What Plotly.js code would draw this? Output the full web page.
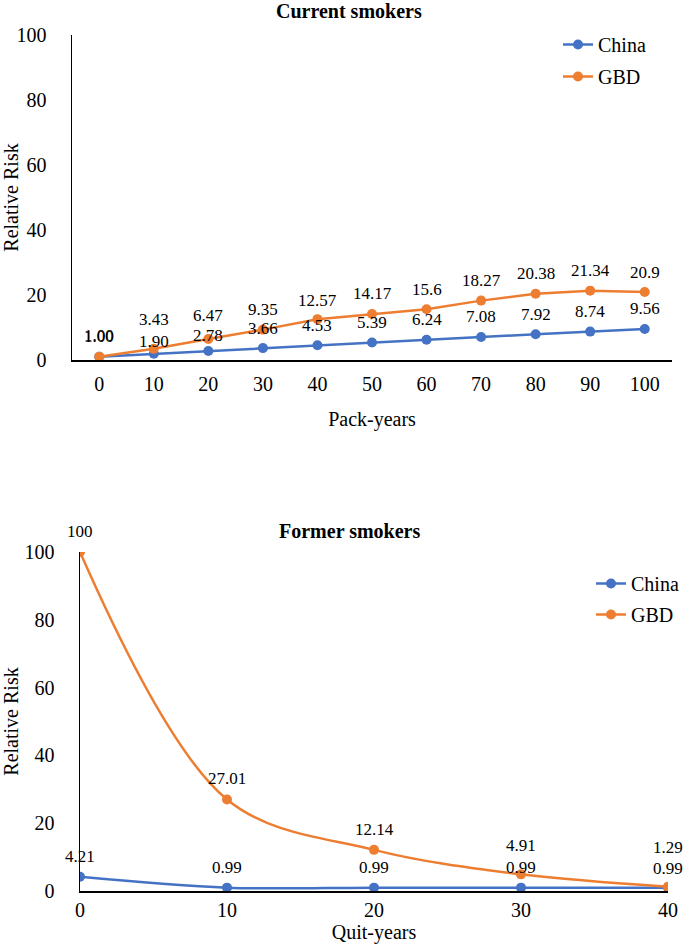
<!DOCTYPE html>
<html>
<head>
<meta charset="utf-8">
<script src="https://cdn.plot.ly/plotly-3.0.1.min.js"></script>
<style>html,body{margin:0;padding:0;background:#fff;}#chart{width:685px;height:947px;}</style>
</head>
<body>
<div id="chart"></div>
<script>
// ---- data ----
const packYears = [0, 10, 20, 30, 40, 50, 60, 70, 80, 90, 100];
const chinaCurrent = [1.00, 1.90, 2.78, 3.66, 4.53, 5.39, 6.24, 7.08, 7.92, 8.74, 9.56];
const gbdCurrent = [1.00, 3.43, 6.47, 9.35, 12.57, 14.17, 15.6, 18.27, 20.38, 21.34, 20.9];
const chinaCurrentText = ['1.00', '1.90', '2.78', '3.66', '4.53', '5.39', '6.24', '7.08', '7.92', '8.74', '9.56'];
const gbdCurrentText = ['1.00', '3.43', '6.47', '9.35', '12.57', '14.17', '15.6', '18.27', '20.38', '21.34', '20.9'];

const quitYears = [0, 10, 20, 30, 40];
const chinaFormer = [4.21, 0.99, 0.99, 0.99, 0.99];
const gbdFormer = [100, 27.01, 12.14, 4.91, 1.29];
const chinaFormerText = ['4.21', '0.99', '0.99', '0.99', '0.99'];
const gbdFormerText = ['100', '27.01', '12.14', '4.91', '1.29'];

const seriesNames = ['China', 'GBD'];
const titles = ['Current smokers', 'Former smokers'];
const xTitles = ['Pack-years', 'Quit-years'];
const yTitle = 'Relative Risk';

// ---- styles ----
const BLUE = '#4472C4', ORANGE = '#ED7D31';
const FONT = 'Liberation Serif, Times New Roman, serif';
// label offsets above the point (px), to mimic the reference placement
const shiftChinaCur = [20, 12, 15, 20, 20, 20, 20, 20, 20, 20, 20];
const shiftGbdCur = [21, 29, 23, 20, 19, 20, 20, 20, 20, 20, 20];
const shiftChinaFor = [20, 20, 20, 20, 19];
const shiftGbdFor = [21, 21, 20, 29, 39];

function tr(x, y, name, color, xa, ya, legend, shape) {
  return {
    x: x, y: y, name: name, type: 'scatter', mode: 'lines+markers',
    xaxis: xa, yaxis: ya, legend: legend, legendgroup: name + legend,
    line: {color: color, width: 2.5, shape: shape, smoothing: 1},
    marker: {color: color, size: 10}
  };
}

const data = [
  tr(packYears, chinaCurrent, seriesNames[0], BLUE, 'x', 'y', 'legend', 'linear'),
  tr(packYears, gbdCurrent, seriesNames[1], ORANGE, 'x', 'y', 'legend', 'linear'),
  tr(quitYears, chinaFormer, seriesNames[0], BLUE, 'x2', 'y2', 'legend2', 'spline'),
  tr(quitYears, gbdFormer, seriesNames[1], ORANGE, 'x2', 'y2', 'legend2', 'spline')
];

const annotations = [];
function addLabels(xs, ys, texts, shifts, xref, yref) {
  xs.forEach((xv, i) => {
    annotations.push({
      x: xv, y: ys[i], xref: xref, yref: yref, text: texts[i], showarrow: false,
      yshift: shifts[i], xanchor: 'center', yanchor: 'middle',
      font: {family: FONT, size: 17, color: '#000'}
    });
  });
}
addLabels(packYears, gbdCurrent, gbdCurrentText, shiftGbdCur, 'x', 'y');
addLabels(packYears, chinaCurrent, chinaCurrentText, shiftChinaCur, 'x', 'y');
addLabels(quitYears, gbdFormer, gbdFormerText, shiftGbdFor, 'x2', 'y2');
addLabels(quitYears, chinaFormer, chinaFormerText, shiftChinaFor, 'x2', 'y2');

const H = 947, W = 685;
function py(p) { return 1 - p / H; }
// chart titles
annotations.push({xref: 'paper', yref: 'paper', x: 349 / W, y: py(11), text: '<b>' + titles[0] + '</b>',
  showarrow: false, xanchor: 'center', yanchor: 'middle', font: {family: FONT, size: 20, color: '#000'}});
annotations.push({xref: 'paper', yref: 'paper', x: 349 / W, y: py(531), text: '<b>' + titles[1] + '</b>',
  showarrow: false, xanchor: 'center', yanchor: 'middle', font: {family: FONT, size: 20, color: '#000'}});

const axisFont = {family: FONT, size: 20, color: '#000'};
const layout = {
  width: W, height: H,
  margin: {l: 0, r: 0, t: 0, b: 0},
  paper_bgcolor: '#fff', plot_bgcolor: '#fff',
  font: {family: FONT, color: '#000'},
  annotations: annotations,
  xaxis: {
    domain: [72 / W, 672 / W], range: [-5, 105], tickmode: 'array', tickvals: packYears,
    showgrid: false, zeroline: false, showline: true, linecolor: '#000', linewidth: 1.5,
    ticks: '', tickfont: axisFont, ticklabelstandoff: 5,
    title: {text: xTitles[0], font: axisFont, standoff: 18}, anchor: 'y'
  },
  yaxis: {
    domain: [py(360), py(35)], range: [0, 100], dtick: 20,
    showgrid: false, zeroline: false, showline: true, linecolor: '#000', linewidth: 1.5,
    ticks: '', tickfont: axisFont, ticklabelstandoff: 20,
    title: {text: yTitle, font: axisFont, standoff: 10}, anchor: 'x'
  },
  xaxis2: {
    domain: [80 / W, 668 / W], range: [0, 40], dtick: 10,
    showgrid: false, zeroline: false, showline: true, linecolor: '#000', linewidth: 1.5,
    ticks: '', tickfont: axisFont, ticklabelstandoff: 0,
    title: {text: xTitles[1], font: axisFont, standoff: 0}, anchor: 'y2'
  },
  yaxis2: {
    domain: [py(891), py(552)], range: [0, 100], dtick: 20,
    showgrid: false, zeroline: false, showline: true, linecolor: '#000', linewidth: 1.5,
    ticks: '', tickfont: axisFont, ticklabelstandoff: 20,
    title: {text: yTitle, font: axisFont, standoff: 18}, anchor: 'x2'
  },
  legend: {
    x: 558 / W, y: py(25), xanchor: 'left', yanchor: 'top',
    font: {family: FONT, size: 20, color: '#000'}, bgcolor: 'rgba(0,0,0,0)',
    traceorder: 'grouped', tracegroupgap: 3, itemwidth: 30
  },
  legend2: {
    x: 591 / W, y: py(564), xanchor: 'left', yanchor: 'top',
    font: {family: FONT, size: 20, color: '#000'}, bgcolor: 'rgba(0,0,0,0)',
    traceorder: 'grouped', tracegroupgap: 2, itemwidth: 30
  },
  showlegend: true
};

Plotly.newPlot('chart', data, layout, {displayModeBar: false, staticPlot: true});
</script>
</body>
</html>
